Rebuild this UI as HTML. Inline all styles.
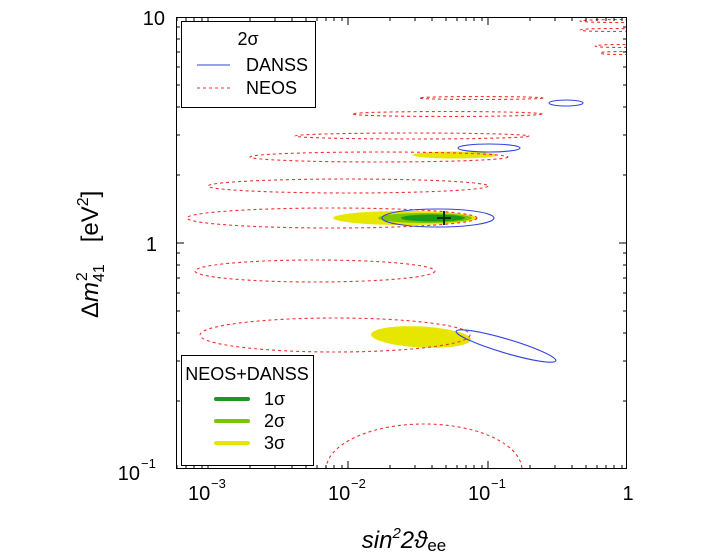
<!DOCTYPE html>
<html><head><meta charset="utf-8"><style>
html,body{margin:0;padding:0;background:#fff;}
svg{display:block;font-family:"Liberation Sans",sans-serif;}
</style></head><body>
<svg width="703" height="558" viewBox="0 0 703 558" xmlns="http://www.w3.org/2000/svg">
<defs><clipPath id="c"><rect x="176" y="17" width="451" height="452"/></clipPath></defs>
<g clip-path="url(#c)">
<ellipse cx="455" cy="155" rx="42" ry="3.5" fill="#e6e600"/>
<ellipse cx="405" cy="218" rx="72" ry="7" fill="#e6e600"/>
<ellipse cx="425" cy="218" rx="47" ry="5" fill="#7ac400"/>
<ellipse cx="433" cy="218" rx="32" ry="3.5" fill="#1a9a1a"/>
<ellipse cx="421" cy="337" rx="50" ry="10.5" fill="#e6e600" transform="rotate(3 421 337)"/>
<g fill="none" stroke="#ee3333" stroke-width="1.1" stroke-dasharray="3,3">
<ellipse cx="481" cy="98" rx="62" ry="1.5"/>
<ellipse cx="447" cy="114" rx="95" ry="2.5"/>
<ellipse cx="412" cy="136" rx="117" ry="3"/>
<ellipse cx="379" cy="157" rx="129" ry="5"/>
<ellipse cx="348" cy="186" rx="140" ry="7"/>
<ellipse cx="332" cy="218" rx="145" ry="10"/>
<ellipse cx="315" cy="271" rx="120" ry="11"/>
<ellipse cx="335" cy="335" rx="135" ry="17"/>
<ellipse cx="424" cy="470" rx="98" ry="46"/>
<ellipse cx="620" cy="21" rx="40" ry="1.5"/>
<ellipse cx="610" cy="30" rx="30" ry="1.5"/>
<ellipse cx="620" cy="46" rx="25" ry="1.5"/>
<ellipse cx="620" cy="53" rx="20" ry="1.5"/>
</g>
<g fill="none" stroke="#3344dd" stroke-width="1.1">
<ellipse cx="566" cy="103" rx="17" ry="3"/>
<ellipse cx="489" cy="148" rx="31" ry="4"/>
<ellipse cx="438" cy="218" rx="56" ry="9"/>
<ellipse cx="506" cy="346" rx="52" ry="7" transform="rotate(16.5 506 346)"/>
</g>
<path d="M437 218 H451 M444 211 V225" stroke="#003300" stroke-width="2"/>
</g>
<rect x="176.5" y="17.5" width="450" height="451" fill="none" stroke="#000" stroke-width="1"/>
<g stroke="#000" stroke-width="1">
<path d="M208 469v-8M348 469v-8M488 469v-8M208 17v8M348 17v8M488 17v8"/>
<path d="M177 469v-4M186 469v-4M194 469v-4M202 469v-4M250 469v-4M275 469v-4M292 469v-4M306 469v-4M317 469v-4M326 469v-4M334 469v-4M342 469v-4M390 469v-4M415 469v-4M432 469v-4M446 469v-4M457 469v-4M466 469v-4M474 469v-4M482 469v-4M530 469v-4M555 469v-4M572 469v-4M586 469v-4M597 469v-4M606 469v-4M614 469v-4M622 469v-4"/>
<path d="M177 17v4M186 17v4M194 17v4M202 17v4M250 17v4M275 17v4M292 17v4M306 17v4M317 17v4M326 17v4M334 17v4M342 17v4M390 17v4M415 17v4M432 17v4M446 17v4M457 17v4M466 17v4M474 17v4M482 17v4M530 17v4M555 17v4M572 17v4M586 17v4M597 17v4M606 17v4M614 17v4M622 17v4"/>
<path d="M176 243h8M627 243h-8"/>
<path d="M176 175h4M176 135h4M176 107h4M176 85h4M176 67h4M176 52h4M176 39h4M176 27h4M176 401h4M176 361h4M176 333h4M176 311h4M176 293h4M176 278h4M176 265h4M176 253h4"/>
<path d="M627 175h-4M627 135h-4M627 107h-4M627 85h-4M627 67h-4M627 52h-4M627 39h-4M627 27h-4M627 401h-4M627 361h-4M627 333h-4M627 311h-4M627 293h-4M627 278h-4M627 265h-4M627 253h-4"/>
</g>
<g font-size="20" fill="#000">
<text x="165" y="25" text-anchor="end">10</text>
<text x="157" y="251" text-anchor="end">1</text>
<text x="140" y="480" text-anchor="end">10</text><text x="141" y="468" font-size="13">−1</text>
<text x="188" y="500">10</text><text x="211" y="488" font-size="13">−3</text>
<text x="328" y="500">10</text><text x="351" y="488" font-size="13">−2</text>
<text x="468" y="500">10</text><text x="491" y="488" font-size="13">−1</text>
<text x="628" y="500" text-anchor="middle">1</text>
</g>
<text x="404" y="548" font-size="24" text-anchor="middle" font-style="italic">sin<tspan font-size="15" dy="-10">2</tspan><tspan dy="10">2ϑ</tspan><tspan font-style="normal" font-size="17" dy="3">ee</tspan></text>
<g transform="translate(98,318) rotate(-90)" font-size="24">
<text x="0" y="0">Δ<tspan font-style="italic">m</tspan><tspan font-size="16" dy="6">41</tspan><tspan font-size="16" dx="-17" dy="-17">2</tspan><tspan dx="30" dy="11">[eV</tspan><tspan font-size="16" dy="-10">2</tspan><tspan dy="10">]</tspan></text>
</g>
<rect x="181.5" y="21.5" width="134" height="86" fill="#fff" stroke="#000" stroke-width="1"/>
<text x="248" y="45" font-size="18" text-anchor="middle">2σ</text>
<line x1="197" y1="65" x2="230" y2="65" stroke="#3344dd" stroke-width="1.1"/>
<text x="246" y="71" font-size="18">DANSS</text>
<line x1="197" y1="88" x2="230" y2="88" stroke="#ee3333" stroke-width="1.1" stroke-dasharray="3,3"/>
<text x="246" y="94" font-size="18">NEOS</text>
<rect x="181.5" y="355.5" width="132" height="110" fill="#fff" stroke="#000" stroke-width="1"/>
<text x="247" y="380" font-size="18" text-anchor="middle">NEOS+DANSS</text>
<line x1="216" y1="399" x2="248" y2="399" stroke="#1a9a1a" stroke-width="4" stroke-linecap="round"/>
<text x="264" y="405" font-size="18">1σ</text>
<line x1="216" y1="421" x2="248" y2="421" stroke="#7ac400" stroke-width="4" stroke-linecap="round"/>
<text x="264" y="427" font-size="18">2σ</text>
<line x1="216" y1="443" x2="248" y2="443" stroke="#e6e600" stroke-width="4" stroke-linecap="round"/>
<text x="264" y="449" font-size="18">3σ</text>
</svg>
</body></html>
